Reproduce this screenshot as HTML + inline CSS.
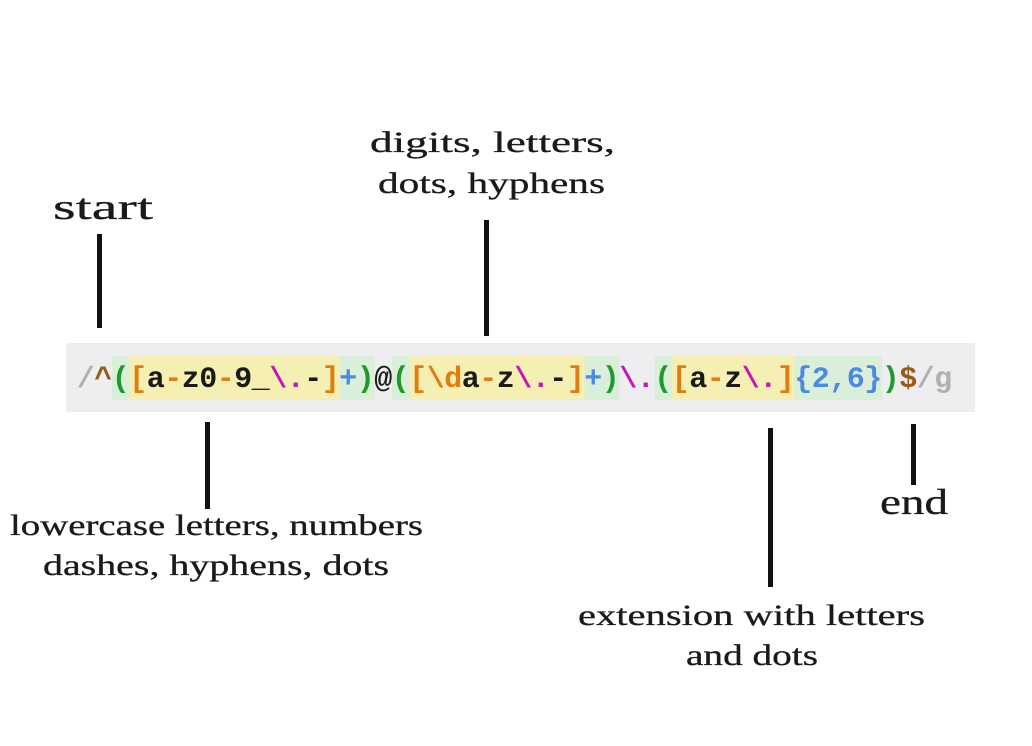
<!DOCTYPE html>
<html><head><meta charset="utf-8"><style>
html,body{margin:0;padding:0;background:#fff;}
svg{display:block;}
.ann{font-family:"Liberation Serif",serif;fill:#1a1a1a;stroke:#1a1a1a;stroke-width:0.3;}
.rx{font-family:"Liberation Mono",monospace;font-weight:bold;font-size:30px;}
</style></head><body>
<svg id="s" width="1032" height="746" viewBox="0 0 1032 746">
<rect x="66" y="343" width="909" height="69" fill="#eeeef0"/>
<g id="hl"></g>
<g id="chars"></g>
<text class="ann" x="53" y="219" font-size="36" textLength="100" lengthAdjust="spacingAndGlyphs">start</text>
<rect x="97" y="234" width="5" height="94" fill="#111"/>
<text class="ann" x="370" y="152" font-size="30" textLength="245" lengthAdjust="spacingAndGlyphs">digits,  letters,</text>
<text class="ann" x="378" y="193" font-size="30" textLength="227" lengthAdjust="spacingAndGlyphs">dots, hyphens</text>
<rect x="484" y="220" width="5" height="116" fill="#111"/>
<rect x="205" y="422" width="5" height="87" fill="#111"/>
<text class="ann" x="10" y="535" font-size="30" textLength="413" lengthAdjust="spacingAndGlyphs">lowercase letters, numbers</text>
<text class="ann" x="43" y="575" font-size="30" textLength="346" lengthAdjust="spacingAndGlyphs">dashes,  hyphens,  dots</text>
<rect x="768" y="428" width="5" height="159" fill="#111"/>
<text class="ann" x="578" y="625" font-size="30" textLength="347" lengthAdjust="spacingAndGlyphs">extension with letters</text>
<text class="ann" x="686" y="665" font-size="30" textLength="132" lengthAdjust="spacingAndGlyphs">and dots</text>
<rect x="911" y="424" width="5" height="61" fill="#111"/>
<text class="ann" x="880" y="514" font-size="36" textLength="68" lengthAdjust="spacingAndGlyphs">end</text>
</svg>
<script>
const regexChars = "/^([a-z0-9_\\.-]+)@([\\da-z\\.-]+)\\.([a-z\\.]{2,6})$/g".split('');
const G='#1e9a2a',O='#e07d10',K='#1a1a1a',M='#c417b8',B='#4a8ae0',GR='#b0b0b0',BR='#9a5a18';
const charColors=[GR,BR,G,O,K,O,K,K,O,K,K,M,M,K,O,B,G,K,G,O,O,O,K,O,K,M,M,K,O,B,G,M,M,G,O,K,O,K,M,M,O,B,B,B,B,B,G,BR,GR,GR];
const greenSpans=[[2,16],[18,30],[33,45]];
const yellowSpans=[[3,14],[19,28],[34,40]];
const x0=77,w=17.5;
const ns='http://www.w3.org/2000/svg';
const hl=document.getElementById('hl'),ch=document.getElementById('chars');
greenSpans.forEach(s=>{const r=document.createElementNS(ns,'rect');
r.setAttribute('x',x0+s[0]*w);r.setAttribute('y',356);r.setAttribute('width',(s[1]-s[0]+1)*w);r.setAttribute('height',44);r.setAttribute('fill','#d9efd9');


hl.appendChild(r);});
yellowSpans.forEach(s=>{const r=document.createElementNS(ns,'rect');
r.setAttribute('x',x0+s[0]*w);r.setAttribute('y',356);r.setAttribute('width',(s[1]-s[0]+1)*w);r.setAttribute('height',44);r.setAttribute('fill','#f6efb4');


hl.appendChild(r);});
regexChars.forEach((c,i)=>{const t=document.createElementNS(ns,'text');
t.setAttribute('x',x0+i*w+w/2);t.setAttribute('y',387);t.setAttribute('text-anchor','middle');t.setAttribute('class','rx');
t.setAttribute('fill',charColors[i]||K);
if(c==='/'||c==='g')t.setAttribute('font-weight','normal');
t.textContent=c;


ch.appendChild(t);});
</script>
</body></html>
